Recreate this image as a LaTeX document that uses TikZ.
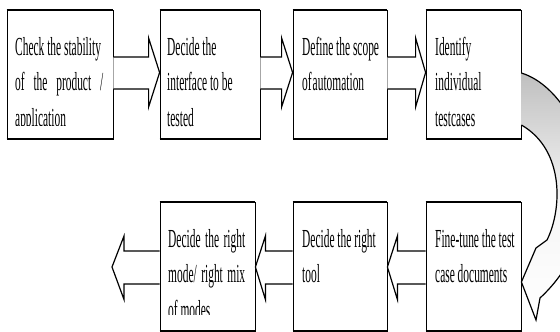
\documentclass[tikz,border=0pt]{standalone}
\usepackage{fontspec}
\setmainfont{Liberation Serif}[FakeStretch=0.44]
\usetikzlibrary{calc}
% rightward block arrow: #1 start point, #2 tip point, #3 head depth
\newcommand\RightBlock[3]{\draw[barrow] ($(#1)+(0,-17.5)$) -- ($(#2)+(-#3,-17.5)$) -- ($(#2)+(-#3,-36.5)$) -- ($(#2)+(0,-2)$) -- ($(#2)+(-#3,32.5)$) -- ($(#2)+(-#3,14.5)$) -- ($(#1)+(0,14.5)$);}
\newcommand\LeftBlock[3]{\draw[barrow] ($(#1)+(0,-15.5)$) -- ($(#2)+(#3,-15.5)$) -- ($(#2)+(#3,-30.5)$) -- ($(#2)+(0,0.5)$) -- ($(#2)+(#3,33)$) -- ($(#2)+(#3,17.5)$) -- ($(#1)+(0,17.5)$);}
\newcommand\JL[1]{\makebox[\linewidth][s]{#1}}
\begin{document}
\begin{tikzpicture}[x=1pt,y=-1pt,
  box/.style={draw, line width=0.8pt, inner sep=0, fill=white, minimum height=129pt},
  barrow/.style={draw, fill=white, line width=1.2pt, line join=miter},
  txt/.style={inner sep=0, anchor=base west, font=\fontsize{26}{35.5}\selectfont}]
\useasboundingbox (0,0) rectangle (560,332);
\clip (0,0) rectangle (560,332);
% boxes
\node[box, minimum width=106pt] (b1) at (60,74.5) {};
\node[box, minimum width=100pt] (b2) at (210,74.5) {};
\node[box, minimum width=94pt]  (b3) at (340,74.5) {};
\node[box, minimum width=95pt]  (b4) at (473.5,74.5) {};
\node[box, minimum width=95pt]  (b5) at (207.5,266.5) {};
\node[box, minimum width=94pt]  (b6) at (340,266.5) {};
\node[box, minimum width=95pt]  (b7) at (473.5,266.5) {};
\foreach \b in {b1,b2,b3,b4,b5,b6,b7}
  \draw[line width=2pt] (\b.north west) -- (\b.north east) (\b.south west) -- (\b.south east);
\coordinate (exit) at (112,266.5);
% straight block arrows
\RightBlock{b1.east}{b2.west}{11}
\RightBlock{b2.east}{b3.west}{11}
\RightBlock{b3.east}{b4.west}{10}
\LeftBlock{b7.west}{b6.east}{10}
\LeftBlock{b6.west}{b5.east}{10}
\LeftBlock{b5.west}{exit}{12}
% curved block arrow
\shadedraw[top color=gray!50, bottom color=white, middle color=gray!8, line width=1.2pt, line join=miter]
  ($(b4.east)+(0,-1.5)$) .. controls (560,85) and (590,140) .. (588,190)
  .. controls (586,240) and (565,275) .. (540,298)
  -- (536,320) -- ($(b7.east)+(0,15.5)$) -- (536,248) -- (547,240)
  .. controls (562,210) and (565,150) .. ($(b4.east)+(0,50.5)$);
% texts
\begin{scope}
\clip (b1.north west) rectangle ($(b1.north east)+(0,116)$);
\node[txt] (t1) at (15,55) {\parbox[t]{88pt}{\raggedright Check the stability\\\JL{of the product /}\\application}};
\end{scope}
\node[txt] (t2) at (167,55) {\parbox[t]{90pt}{\raggedright Decide the\\interface to be\\tested}};
\node[txt] (t3) at (302,55) {\parbox[t]{84pt}{\raggedright Define the scope\\of\hspace{1pt}automation}};
\node[txt] (t4) at (435,55) {\parbox[t]{84pt}{\raggedright Identify\\individual\\testcases}};
\begin{scope}
\clip (b5.north west) rectangle ($(b5.north east)+(0,113)$);
\node[txt] (t5) at (168,247) {\parbox[t]{77pt}{\raggedright \JL{Decide the right}\\\JL{mode/ right mix}\\of modes}};
\end{scope}
\node[txt] (t6) at (302,247) {\parbox[t]{84pt}{\raggedright Decide the right\\tool}};
\node[txt] (t7) at (435,247) {\parbox[t]{84pt}{\raggedright Fine-tune the test\\case documents}};
\end{tikzpicture}
\end{document}
